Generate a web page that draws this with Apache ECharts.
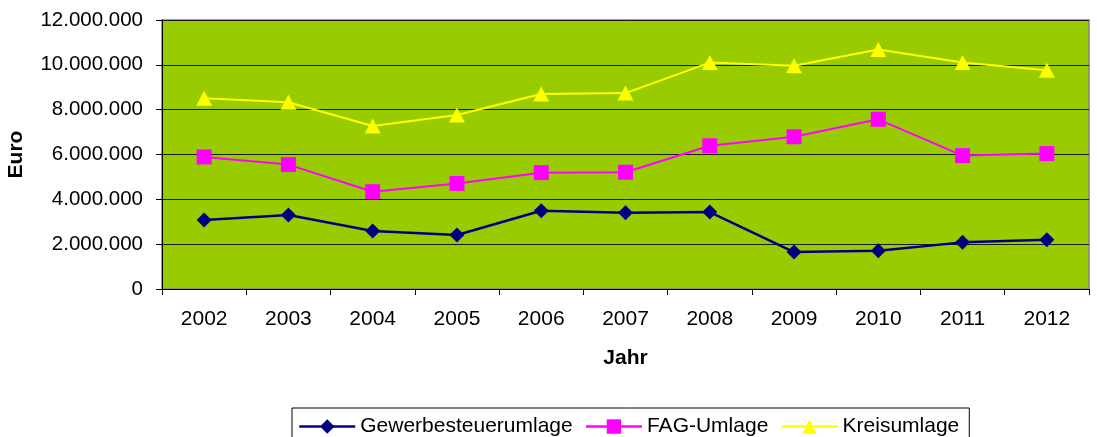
<!DOCTYPE html>
<html><head><meta charset="utf-8">
<script src="https://cdn.jsdelivr.net/npm/echarts@6/dist/echarts.min.js"></script>
<style>html,body{margin:0;padding:0;background:#fff}#c{width:1097px;height:437px}</style>
</head><body><div id="c"></div>
<script>
var years = ['2002','2003','2004','2005','2006','2007','2008','2009','2010','2011','2012'];
var gewerbe = [3080000,3300000,2590000,2410000,3490000,3400000,3430000,1650000,1710000,2080000,2200000];
var fag = [5890000,5550000,4340000,4710000,5190000,5210000,6390000,6790000,7570000,5950000,6040000];
var kreis = [8510000,8330000,7270000,7760000,8700000,8740000,10100000,9960000,10680000,10100000,9760000];
var seriesNames = ['Gewerbesteuerumlage','FAG-Umlage','Kreisumlage'];

function fmt(v){return String(v).replace(/\B(?=(\d{3})+(?!\d))/g,'.');}
var font = 'Liberation Sans, Arial, sans-serif';
var chart = echarts.init(document.getElementById('c'));
chart.setOption({
  animation:false,
  backgroundColor:'#fff',
  textStyle:{fontFamily:font,color:'#000'},
  grid:{left:162,top:20,right:8,bottom:148,outerBoundsMode:'none',containLabel:false,show:true,backgroundColor:'#99cc00',borderColor:'#808080',borderWidth:1.5},
  legend:{
    left:292,top:408,
    data:seriesNames,
    borderColor:'#000',borderWidth:1,padding:[8,10,10,6],
    itemWidth:56,itemHeight:18,itemGap:12,
    lineStyle:{width:2.5},
    textStyle:{fontSize:21,fontFamily:font,color:'#000'}
  },
  xAxis:{
    type:'category',data:years,boundaryGap:true,
    name:'Jahr',nameLocation:'middle',nameGap:59,
    nameTextStyle:{fontSize:21,fontWeight:'bold',fontFamily:font,color:'#000'},
    axisLine:{lineStyle:{color:'#000',width:1}},
    axisTick:{show:true,alignWithLabel:false,length:6,lineStyle:{color:'#000'}},
    axisLabel:{fontSize:21,margin:20,color:'#000',fontFamily:font}
  },
  yAxis:{
    type:'value',min:0,max:12000000,interval:2000000,
    name:'Euro',nameLocation:'middle',nameGap:135,nameRotate:90,
    nameTextStyle:{fontSize:21,fontWeight:'bold',fontFamily:font,color:'#000'},
    axisLine:{show:true,lineStyle:{color:'#000',width:1}},
    axisTick:{show:true,length:6,lineStyle:{color:'#000'}},
    axisLabel:{fontSize:20.5,margin:19,color:'#000',fontFamily:font,formatter:fmt},
    splitLine:{lineStyle:{color:'#1a1a1a',width:1}}
  },
  series:[
    {name:seriesNames[0],type:'line',data:gewerbe,symbol:'diamond',symbolSize:15,
     lineStyle:{color:'#000080',width:2.5},itemStyle:{color:'#000080'}},
    {name:seriesNames[1],type:'line',data:fag,symbol:'rect',symbolSize:15,
     lineStyle:{color:'#ff00ff',width:2},itemStyle:{color:'#ff00ff'}},
    {name:seriesNames[2],type:'line',data:kreis,symbol:'triangle',symbolSize:[16,15],
     lineStyle:{color:'#ffff00',width:2},itemStyle:{color:'#ffff00'}}
  ]
});
</script></body></html>
